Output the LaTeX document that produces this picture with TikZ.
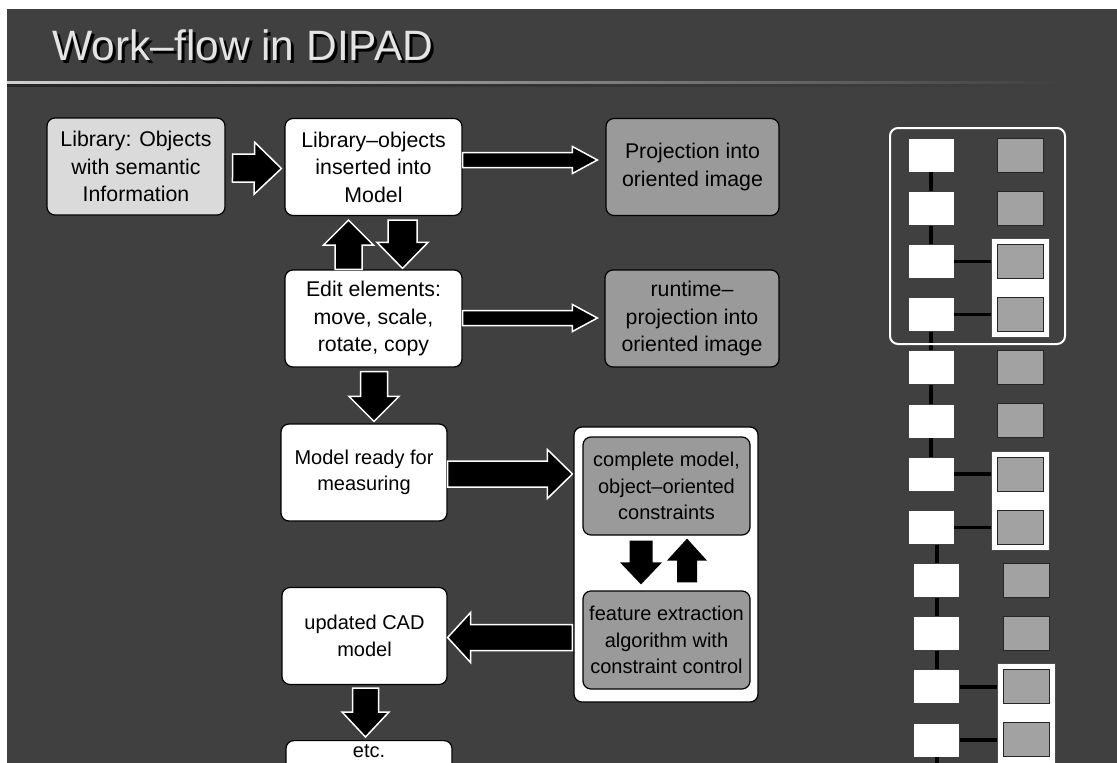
\documentclass[tikz,border=0pt]{standalone}
\usepackage{fontspec}
\setmainfont{Liberation Sans}
\usetikzlibrary{positioning, calc, fit}

\pgfdeclarelayer{back}
\pgfdeclarelayer{mid}
\pgfsetlayers{back,mid,main}

\definecolor{slidebg}{HTML}{404040}
\definecolor{libfill}{HTML}{DADADA}
\definecolor{projfill}{HTML}{9A9A9A}
\definecolor{sqfill}{HTML}{A2A2A2}
\definecolor{titletext}{HTML}{E4E4E4}
\definecolor{linelight}{HTML}{CFCFCF}

\begin{document}
\begin{tikzpicture}[
        x=1pt, y=-1pt,
        % Sizes of the block arrows (half widths, head length)
        fat shaft/.store in=\fatsw,
        fat head/.store in=\fathw,
        fat tip/.store in=\fathl,
        fat shaft=13pt, fat head=25pt, fat tip=25pt,
        % Block arrow with white outline
        fatarrow/.style={
            draw=white, fill=black, line width=1.5pt,
            to path={let \p1=(\tikztostart), \p2=(\tikztotarget),
                \p3=($(\p2)!\fathl!(\p1)$) in
                ($(\p1)!\fatsw!90:(\p2)$) -- ($(\p3)!\fatsw!90:(\p2)$)
                -- ($(\p3)!\fathw!90:(\p2)$) -- (\p2)
                -- ($(\p3)!\fathw!-90:(\p2)$) -- ($(\p3)!\fatsw!-90:(\p2)$)
                -- ($(\p1)!\fatsw!-90:(\p2)$) -- cycle}
        },
        % Title text (with its black shadow in the same node)
        titletxt/.style={font=\fontsize{42.5}{48}\selectfont, anchor=base west, text=titletext, inner sep=0pt},
        % Flow boxes
        box/.style={
            rectangle, draw=black, line width=1.2pt, fill=white,
            rounded corners=8pt, align=center, inner sep=2pt,
            minimum width=177pt, minimum height=97pt,
            font=\fontsize{21.3}{27.5}\selectfont
        },
        smallbox/.style={box, font=\fontsize{20}{26.5}\selectfont},
        libbox/.style={box, fill=libfill},
        projbox/.style={box, fill=projfill},
        % Sketch on the right
        wsq/.style={draw=black!75, line width=0.8pt, fill=white,
            minimum width=46pt, minimum height=34pt, inner sep=0pt},
        gsq/.style={draw=black!85, line width=1pt, fill=sqfill,
            minimum width=46pt, minimum height=34pt, inner sep=0pt},
        sqframe/.style={draw=black!70, line width=0.8pt, fill=white,
            inner xsep=5.5pt, inner ysep=5.5pt},
        groupbox/.style={draw=white, line width=2pt, rounded corners=8pt, inner sep=0pt},
        link/.style={draw=black, line width=4pt}
    ]

    \useasboundingbox (0,0) rectangle (1117,763);
    \clip (0,0) rectangle (1117,763);

    % --- Slide background ---
    \begin{pgfonlayer}{back}
        \fill[white] (0,0) rectangle (1117,763);
        \fill[slidebg] (7,9) rectangle (1117,763);
        \shade[left color=linelight, right color=slidebg] (7,81.5) rectangle (1060,84.5);
        \shade[left color=black!85, right color=slidebg] (7,84.5) rectangle (1060,86.5);
    \end{pgfonlayer}

    % --- Title ---
    \node[titletxt] (title) at (52,60)
        {\rlap{\hspace{3pt}\raisebox{-3pt}{\color{black}Work–flow in DIPAD}}Work–flow in DIPAD};

    % --- Nodes ---
    \node[libbox, minimum width=178pt] (lib) at (136,166.5) {Library: Objects\\with semantic\\Information};
    \node[box] (ins) at (373.5,167) {Library–objects\\inserted into\\Model};
    \node[projbox, minimum width=173pt] (proj) at (692.5,167) {Projection into\\oriented image};
    \node[box] (edit) at (373.5,318.5) {Edit elements:\\move, scale,\\rotate, copy};
    \node[projbox, minimum width=174pt] (run) at (692,318.5) {runtime–\\projection into\\oriented image};

    \node[smallbox, minimum width=166pt] (ready) at (364,472.5) {Model ready for\\measuring};
    \node[box, minimum width=184pt, minimum height=275pt] (cont) at (666,564.5) {};
    \node[smallbox, fill=projfill, minimum width=167pt, minimum height=98pt] (comp) at (666.5,486) {complete model,\\object–oriented\\constraints};
    \node[smallbox, fill=projfill, minimum width=167pt, minimum height=98pt] (feat) at (666.5,640) {feature extraction\\algorithm with\\constraint control};
    \node[smallbox, minimum width=165pt] (cad) at (364.5,636) {updated CAD\\model};
    \node[smallbox, minimum width=166pt, minimum height=0pt, inner sep=4pt, anchor=north, text depth=40pt] (etc) at (369,740) {etc.};

    % --- Block arrows ---
    \draw[fatarrow, fat shaft=14pt, fat head=26pt, fat tip=27pt] ($(lib.east)+(7,1.5)$) to ($(ins.west)+(-3,1.5)$);
    \draw[fatarrow, fat shaft=7.5pt, fat head=13.5pt] ($(ins.east)+(0,-7)$) to ($(proj.west)+(-8,-7)$);
    \draw[fatarrow, fat shaft=7.5pt, fat head=13.5pt] ($(edit.east)+(0,-0.5)$) to ($(run.west)+(-7,-0.5)$);
    \draw[fatarrow, fat shaft=13.5pt] ($(edit.north)+(-25,0)$) to ($(ins.south)+(-25,4)$);
    \draw[fatarrow, fat shaft=14.5pt, fat head=25.5pt, fat tip=26pt] ($(ins.south)+(29,4)$) to ($(edit.north)+(29,-1)$);
    \draw[fatarrow, fat shaft=13.5pt] ($(edit.south)+(0.5,4)$) to ($(ready.north)+(10,-2)$);
    \draw[fatarrow, fat head=24.5pt] ($(ready.east)+(0,1.5)$) to ($(ready.east -| cont.west)+(-1,1.5)$);

    % inside the container: no outline
    \draw[fatarrow, draw=none, fat shaft=11.5pt, fat head=21pt, fat tip=22pt] ($(comp.south)+(-25.5,5)$) to ($(feat.north)+(-25.5,-6)$);
    \draw[fatarrow, draw=none, fat shaft=10pt, fat head=20pt, fat tip=22pt] ($(feat.north)+(20.5,-8)$) to ($(comp.south)+(20.5,3)$);

    \draw[fatarrow, fat tip=23pt] ($(cad.east -| cont.west)+(-1,1.5)$) to ($(cad.east)+(0,1.5)$);
    \draw[fatarrow, fat head=23.5pt] ($(cad.south)+(1,3)$) to ($(etc.north)+(-3.5,-3)$);

    % --- Sketch: model parts and image parts ---
    \foreach \i in {1,...,12} {
        \pgfmathsetmacro\rowy{155+(\i-1)*53.18}
        \pgfmathsetmacro\rowdx{(\i>8)*5.5}
        \node[wsq] (l\i) at (931+\rowdx,\rowy) {};
        \node[gsq] (r\i) at (1020.5+\rowdx,\rowy) {};
    }

    % frames behind the linked image parts
    \begin{pgfonlayer}{mid}
        \foreach \a/\b in {3/4, 7/8, 11/12}
            \node[sqframe, fit=(r\a)(r\b)] (f\a) {};
    \end{pgfonlayer}

    % vertical chain
    \foreach \a/\b in {1/2, 2/3, 4/5, 5/6, 6/7, 8/9, 9/10, 10/11}
        \draw[link] (l\b.north |- l\a.south) -- (l\b.north);
    \coordinate (chainend) at ($(l12.south)+(0,12)$);
    \draw[link] (l12.south) -- (chainend);

    % links to the frames
    \foreach \i/\f in {3/3, 4/3, 7/7, 8/7, 11/11, 12/11}
        \draw[link, line width=3.5pt] (l\i.east) -- (l\i.east -| f\f.west);

    % group of the first four rows
    \node[groupbox, minimum width=175pt, minimum height=216pt] (grp) at (977.5,236) {};

\end{tikzpicture}
\end{document}
